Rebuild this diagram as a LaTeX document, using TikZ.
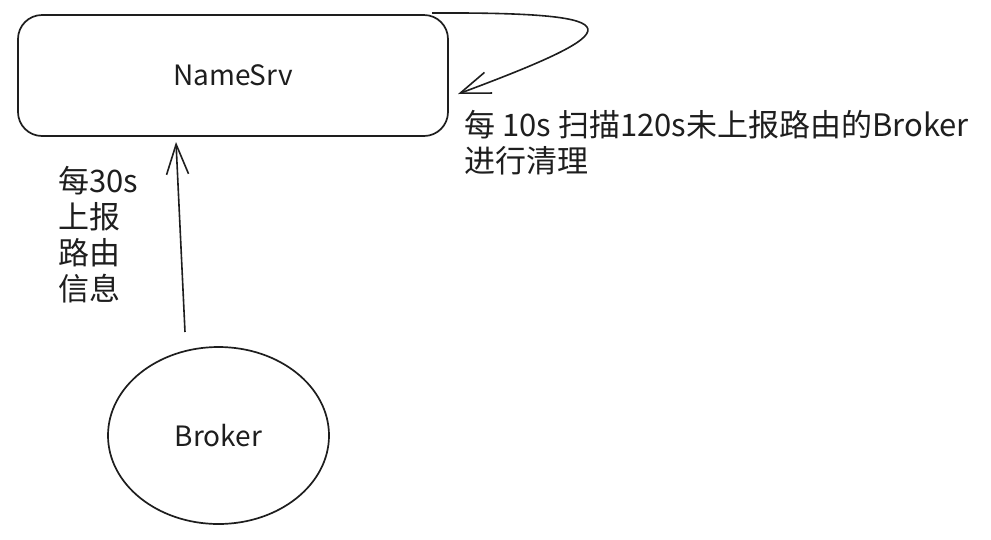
\documentclass[tikz,border=0pt]{standalone}
\usepackage{fontspec}
\newfontfamily\cjk{Noto Sans CJK SC}
\usetikzlibrary{shapes.geometric,arrows.meta}
\definecolor{ink}{HTML}{1E1E1E}
\tikzset{
  sketch/.style={draw=ink, line width=1.7pt},
  arr/.style={draw=ink, line width=1.6pt, -{Straight Barb[length=30pt,width=22pt,line width=1.6pt]}},
  lbl/.style={font=\cjk\fontsize{28}{32}\selectfont, text=ink},
  note/.style={font=\cjk\fontsize{31}{36}\selectfont, text=ink, align=left, inner sep=0pt, anchor=north west},
}
\begin{document}
\begin{tikzpicture}[x=1pt,y=-1pt]
\useasboundingbox (0,0) rectangle (991,539);
\fill[white] (0,0) rectangle (991,539);
\node[sketch, rounded corners=24pt, minimum width=430pt, minimum height=121pt, lbl] (ns) at (233,75.5) {NameSrv};
\node[sketch, ellipse, minimum width=221pt, minimum height=177pt, inner sep=0pt, lbl] (br) at (218.5,435.5) {Broker};
\coordinate (up0) at (185,332);
\coordinate (up1) at (176,142);
\draw[arr] (up0) -- (up1);
\coordinate (lp0) at (432,13);
\coordinate (lp1) at (458,94);
\draw[arr] (lp0) .. controls (640,12) and (630,30) .. (lp1);
\node[note] (t1) at (464,110) {每 10s 扫描120s未上报路由的Broker\\进行清理};
\node[note] (t2) at (58,166) {每30s\\上报\\路由\\信息};
\end{tikzpicture}
\end{document}
